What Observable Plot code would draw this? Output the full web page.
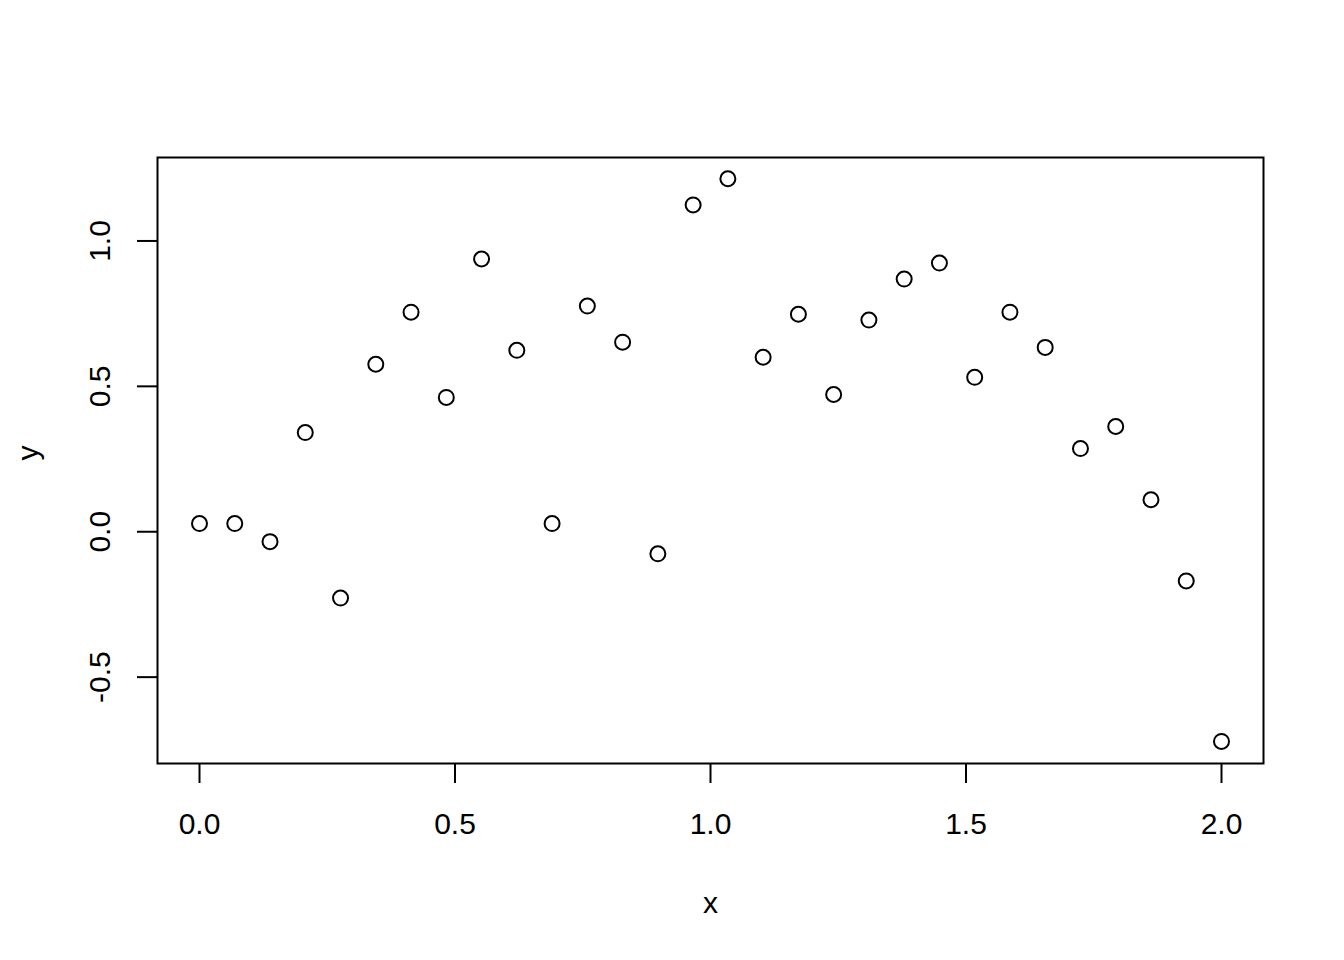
<!DOCTYPE html>
<html>
<head>
<meta charset="utf-8">
<script src="https://cdn.jsdelivr.net/npm/d3@7"></script>
<script src="https://cdn.jsdelivr.net/npm/@observablehq/plot@0.6"></script>
<style>
  html, body { margin: 0; padding: 0; background: white; }
</style>
</head>
<body>
<div id="chart"></div>
<script>
const xs = [0.000, 0.069, 0.138, 0.207, 0.276, 0.345, 0.414, 0.483, 0.552, 0.621,
            0.690, 0.759, 0.828, 0.897, 0.966, 1.034, 1.103, 1.172, 1.241, 1.310,
            1.379, 1.448, 1.517, 1.586, 1.655, 1.724, 1.793, 1.862, 1.931, 2.000];
const ys = [0.028, 0.028, -0.034, 0.341, -0.228, 0.576, 0.755, 0.462, 0.938, 0.624,
            0.028, 0.776, 0.652, -0.076, 1.124, 1.214, 0.600, 0.748, 0.472, 0.728,
            0.869, 0.924, 0.531, 0.755, 0.634, 0.286, 0.362, 0.110, -0.169, -0.721];
const xTicks = [0.0, 0.5, 1.0, 1.5, 2.0];
const yTicks = [-0.5, 0.0, 0.5, 1.0];
const xLabel = "x";
const yLabel = "y";

const data = xs.map((x, i) => ({x, y: ys[i]}));
const fmt = d => d.toFixed(1);

const chart = Plot.plot({
  width: 1344,
  height: 960,
  marginLeft: 157,
  marginRight: 81,
  marginTop: 157,
  marginBottom: 197,
  style: {fontFamily: "'Liberation Sans', Arial, Helvetica, sans-serif", fontSize: "30px", background: "white", color: "black"},
  x: {domain: [-0.0822, 2.0822]},
  y: {domain: [-0.797, 1.287]},
  marks: [
    Plot.frame({stroke: "black", strokeWidth: 2}),
    Plot.axisX({ticks: xTicks, tickFormat: fmt, tickSize: 20, tickPadding: 29, strokeWidth: 2, label: null, fontSize: 30}),
    Plot.axisY({ticks: yTicks, tickFormat: () => "", tickSize: 20, strokeWidth: 2, label: null}),
    Plot.text(yTicks, {y: d => d, text: d => fmt(d), frameAnchor: "left", dx: -57, rotate: -90, textAnchor: "middle", lineAnchor: "middle", fontSize: 30}),
    Plot.text([xLabel], {text: d => d, frameAnchor: "bottom", dy: 140, lineAnchor: "middle", fontSize: 30}),
    Plot.text([yLabel], {text: d => d, frameAnchor: "left", dx: -129, rotate: -90, lineAnchor: "middle", fontSize: 30}),
    Plot.dot(data, {x: "x", y: "y", r: 7.5, stroke: "black", strokeWidth: 2, fill: "none"})
  ]
});
document.getElementById("chart").appendChild(chart);
</script>
</body>
</html>
